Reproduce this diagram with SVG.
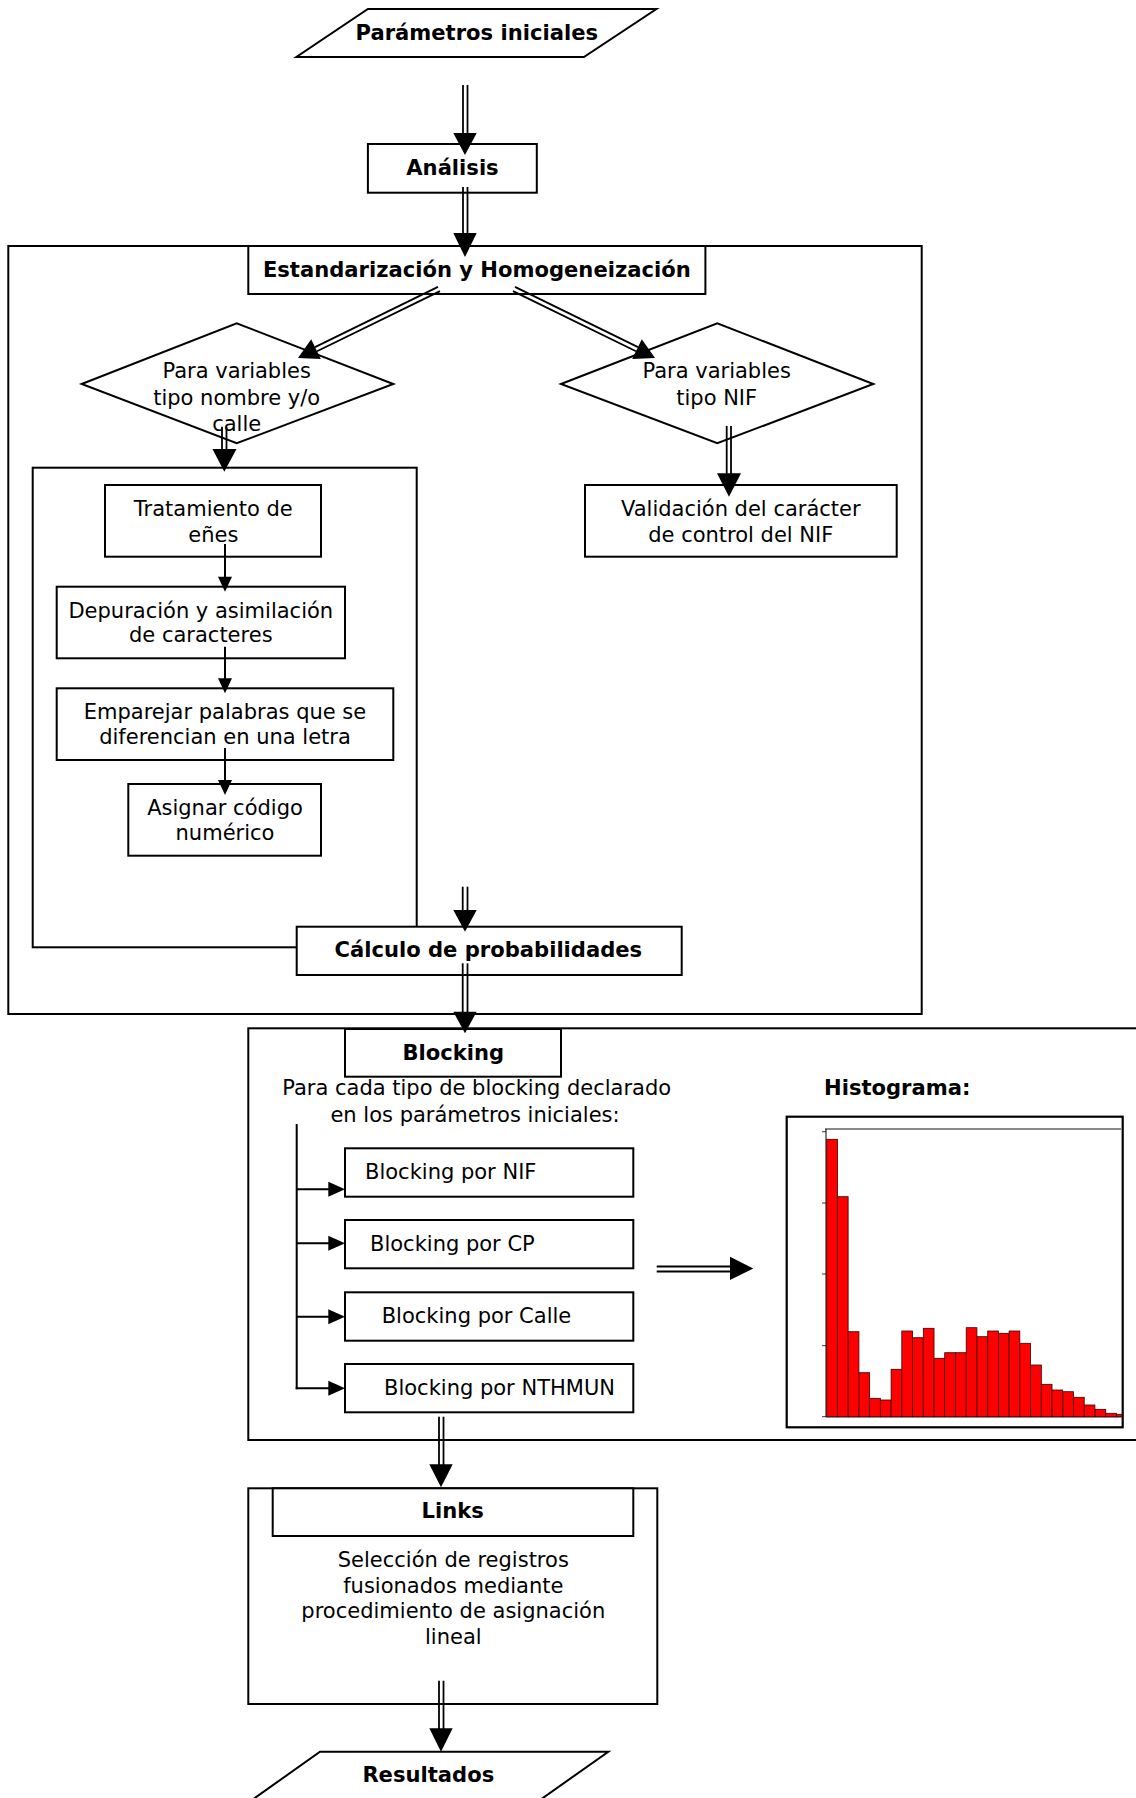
<svg xmlns="http://www.w3.org/2000/svg" width="1136" height="1798" viewBox="0 0 1136 1798">
<style>
.box{fill:#fff;stroke:#000;stroke-width:2}
.frame{fill:none;stroke:#000;stroke-width:2}
.t{font-family:"DejaVu Sans",Verdana,sans-serif;font-size:21px;fill:#000}
.b{font-family:"DejaVu Sans",Verdana,sans-serif;font-size:21.1px;font-weight:bold;fill:#000}
.c{text-anchor:middle}
.dl{stroke:#000;stroke-width:1.8;fill:none}
.sl{stroke:#000;stroke-width:2;fill:none}
.ah{fill:#000;stroke:none}
.bar{fill:#ff0000;stroke:#3a0000;stroke-width:0.8}
</style>
<rect width="1136" height="1798" fill="#fff"/>

<g id="group-estandarizacion">
<rect class="frame" x="8.3" y="246" width="913.4" height="768"/>
</g>
<g id="group-nombre">
<rect class="frame" x="32.7" y="467.7" width="384" height="479.6"/>
</g>
<g id="group-blocking">
<rect class="frame" x="248.3" y="1028.3" width="900" height="411.7"/>
</g>
<g id="group-links">
<rect class="frame" x="248.3" y="1488.3" width="409" height="215.7"/>
</g>

<g id="parametros">
<polygon class="box" points="367.9,9 656.4,9 583.9,57 296.4,57"/>
<text class="b c" x="476.8" y="40">Parámetros iniciales</text>
</g>
<g id="analisis">
<rect class="box" x="367.9" y="144" width="168.9" height="48.7"/>
<text class="b c" x="452.5" y="175">Análisis</text>
</g>
<g id="estandarizacion">
<rect class="box" x="248.3" y="246" width="457.1" height="48"/>
<text class="b c" x="476.8" y="276.7">Estandarización y Homogeneización</text>
</g>
<g id="diamante-nombre">
<polygon class="box" points="81.7,384 236.7,323.3 393.3,384 236.7,443.3"/>
<text class="t c" x="236.7" y="378.3">Para variables</text>
<text class="t c" x="236.7" y="405">tipo nombre y/o</text>
<text class="t c" x="236.7" y="430.7">calle</text>
</g>
<g id="diamante-nif">
<polygon class="box" points="561,384 717.3,323.3 873.3,384 717.3,443.3"/>
<text class="t c" x="716.7" y="378.3">Para variables</text>
<text class="t c" x="716.7" y="405">tipo NIF</text>
</g>
<g id="tratamiento">
<rect class="box" x="105" y="485" width="216" height="71.7"/>
<text class="t c" x="213.3" y="516">Tratamiento de</text>
<text class="t c" x="213.3" y="541.7">eñes</text>
</g>
<g id="validacion">
<rect class="box" x="585" y="485" width="311.7" height="71.7"/>
<text class="t c" x="740.8" y="516">Validación del carácter</text>
<text class="t c" x="740.8" y="541.7">de control del NIF</text>
</g>
<g id="depuracion">
<rect class="box" x="56.7" y="586.7" width="288.3" height="71.6"/>
<text class="t c" x="200.8" y="618.3">Depuración y asimilación</text>
<text class="t c" x="200.8" y="642.3">de caracteres</text>
</g>
<g id="emparejar">
<rect class="box" x="56.7" y="688.3" width="336.6" height="71.7"/>
<text class="t c" x="225" y="719.3">Emparejar palabras que se</text>
<text class="t c" x="225" y="744">diferencian en una letra</text>
</g>
<g id="asignar">
<rect class="box" x="128.3" y="784" width="192.7" height="71.7"/>
<text class="t c" x="225" y="815">Asignar código</text>
<text class="t c" x="225" y="840">numérico</text>
</g>
<g id="calculo">
<rect class="box" x="296.7" y="926.7" width="385" height="48.3"/>
<text class="b c" x="488.3" y="957.3">Cálculo de probabilidades</text>
</g>
<g id="blocking">
<rect class="box" x="345" y="1029" width="216" height="47.7"/>
<text class="b c" x="453.3" y="1060">Blocking</text>
<text class="t c" x="476.7" y="1095">Para cada tipo de blocking declarado</text>
<text class="t c" x="475" y="1121.7">en los parámetros iniciales:</text>
</g>
<g id="blocking-nif">
<rect class="box" x="345" y="1148.3" width="288.3" height="48.4"/>
<text class="t" x="365" y="1179">Blocking por NIF</text>
</g>
<g id="blocking-cp">
<rect class="box" x="345" y="1220" width="288.3" height="48.3"/>
<text class="t" x="370" y="1251">Blocking por CP</text>
</g>
<g id="blocking-calle">
<rect class="box" x="345" y="1292.3" width="288.3" height="48.4"/>
<text class="t" x="381.7" y="1323.3">Blocking por Calle</text>
</g>
<g id="blocking-nthmun">
<rect class="box" x="345" y="1364" width="288.3" height="48.3"/>
<text class="t" x="384" y="1395">Blocking por NTHMUN</text>
</g>
<g id="histograma">
<text class="b" x="824" y="1095">Histograma:</text>
<rect x="786.7" y="1116.7" width="336" height="310.6" fill="#fff" stroke="#000" stroke-width="2.2"/>
<line x1="825" y1="1129" x2="1121.5" y2="1129" stroke="#8a8a8a" stroke-width="2"/>
<line x1="826" y1="1129" x2="826" y2="1417" stroke="#000" stroke-width="1"/>
<line x1="826" y1="1417" x2="1121.5" y2="1417" stroke="#000" stroke-width="0.8"/>
<g stroke="#000" stroke-width="0.8">
<line x1="822" y1="1131.7" x2="826" y2="1131.7"/>
<line x1="822" y1="1203" x2="826" y2="1203"/>
<line x1="822" y1="1274" x2="826" y2="1274"/>
<line x1="822" y1="1345.7" x2="826" y2="1345.7"/>
<line x1="822" y1="1416.7" x2="826" y2="1416.7"/>
</g>
<rect class="bar" x="826.7" y="1139.3" width="10.73" height="277.4"/>
<rect class="bar" x="837.4" y="1196.7" width="10.73" height="220"/>
<rect class="bar" x="848.2" y="1331.7" width="10.73" height="85"/>
<rect class="bar" x="858.9" y="1372.7" width="10.73" height="44"/>
<rect class="bar" x="869.6" y="1398.3" width="10.73" height="18.4"/>
<rect class="bar" x="880.4" y="1400" width="10.73" height="16.7"/>
<rect class="bar" x="891.1" y="1369.3" width="10.73" height="47.4"/>
<rect class="bar" x="901.8" y="1331" width="10.73" height="85.7"/>
<rect class="bar" x="912.5" y="1337.7" width="10.73" height="79"/>
<rect class="bar" x="923.3" y="1328.3" width="10.73" height="88.4"/>
<rect class="bar" x="934" y="1358.3" width="10.73" height="58.4"/>
<rect class="bar" x="944.7" y="1352.7" width="10.73" height="64"/>
<rect class="bar" x="955.5" y="1352.7" width="10.73" height="64"/>
<rect class="bar" x="966.2" y="1327.7" width="10.73" height="89"/>
<rect class="bar" x="976.9" y="1336.7" width="10.73" height="80"/>
<rect class="bar" x="987.7" y="1331" width="10.73" height="85.7"/>
<rect class="bar" x="998.4" y="1333.3" width="10.73" height="83.4"/>
<rect class="bar" x="1009.1" y="1331" width="10.73" height="85.7"/>
<rect class="bar" x="1019.8" y="1343.3" width="10.73" height="73.4"/>
<rect class="bar" x="1030.6" y="1365" width="10.73" height="51.7"/>
<rect class="bar" x="1041.3" y="1384.3" width="10.73" height="32.4"/>
<rect class="bar" x="1052" y="1390" width="10.73" height="26.7"/>
<rect class="bar" x="1062.8" y="1391.7" width="10.73" height="25"/>
<rect class="bar" x="1073.5" y="1397.3" width="10.73" height="19.4"/>
<rect class="bar" x="1084.2" y="1405" width="10.73" height="11.7"/>
<rect class="bar" x="1095" y="1409.3" width="10.73" height="7.4"/>
<rect class="bar" x="1105.7" y="1413.3" width="10.73" height="3.4"/>
<rect class="bar" x="1116.4" y="1414.3" width="5.6" height="2.4"/>
</g>
<g id="links">
<rect class="box" x="272.7" y="1488.3" width="360.6" height="47.7"/>
<text class="b c" x="452.7" y="1518.3">Links</text>
<text class="t c" x="453.3" y="1566.7">Selección de registros</text>
<text class="t c" x="453.3" y="1592.7">fusionados mediante</text>
<text class="t c" x="453.3" y="1618.3">procedimiento de asignación</text>
<text class="t c" x="453.3" y="1644.3">lineal</text>
</g>
<g id="resultados">
<polygon class="box" points="320,1751.7 608.3,1751.7 540,1800 252,1800"/>
<text class="b c" x="428.3" y="1781.7">Resultados</text>
</g>

<g id="connectors">
<!-- Parametros -> Analisis -->
<line class="dl" x1="463" y1="85" x2="463" y2="134"/>
<line class="dl" x1="467.5" y1="85" x2="467.5" y2="134"/>
<polygon class="ah" points="453.3,133 476.7,133 465,155"/>
<!-- Analisis -> Estandarizacion -->
<line class="dl" x1="463" y1="187" x2="463" y2="234"/>
<line class="dl" x1="467.5" y1="187" x2="467.5" y2="234"/>
<polygon class="ah" points="453.3,233 476.7,233 465,257"/>
<!-- Estandarizacion -> diamante nombre -->
<line class="dl" x1="438" y1="286.9" x2="315" y2="347.1"/>
<line class="dl" x1="440" y1="291.1" x2="317" y2="351.3"/>
<polygon class="ah" points="311.2,339.3 320.8,359.1 298,358"/>
<!-- Estandarizacion -> diamante NIF -->
<line class="dl" x1="513" y1="291.1" x2="636" y2="351.3"/>
<line class="dl" x1="515" y1="286.9" x2="638" y2="347.1"/>
<polygon class="ah" points="641.8,339.3 632.2,359.1 655,358"/>
<!-- diamante nombre -> grupo -->
<line class="dl" x1="222" y1="426.7" x2="222" y2="450"/>
<line class="dl" x1="226.5" y1="426.7" x2="226.5" y2="450"/>
<polygon class="ah" points="212.5,449 236.5,449 224.3,471.7"/>
<!-- diamante NIF -> validacion -->
<line class="dl" x1="726.7" y1="426" x2="726.7" y2="474"/>
<line class="dl" x1="731" y1="426" x2="731" y2="474"/>
<polygon class="ah" points="717,473.3 741,473.3 729,496.7"/>
<!-- single arrows -->
<line class="sl" x1="225" y1="544" x2="225" y2="578"/>
<polygon class="ah" points="218,576.7 232,576.7 225,591.7"/>
<line class="sl" x1="225" y1="646.7" x2="225" y2="680"/>
<polygon class="ah" points="218,678.3 232,678.3 225,693.3"/>
<line class="sl" x1="225" y1="748" x2="225" y2="781"/>
<polygon class="ah" points="218,780 232,780 225,795"/>
<!-- -> Calculo -->
<line class="dl" x1="462.7" y1="886.7" x2="462.7" y2="911"/>
<line class="dl" x1="467.5" y1="886.7" x2="467.5" y2="911"/>
<polygon class="ah" points="453.3,910 476.7,910 465,931.7"/>
<!-- Calculo -> Blocking -->
<line class="dl" x1="462.7" y1="963.3" x2="462.7" y2="1013"/>
<line class="dl" x1="467.5" y1="963.3" x2="467.5" y2="1013"/>
<polygon class="ah" points="453.3,1011.7 476.7,1011.7 465,1033.3"/>
<!-- blocking tree -->
<line class="sl" x1="296.7" y1="1124" x2="296.7" y2="1389.3"/>
<line class="sl" x1="296.7" y1="1189.3" x2="330" y2="1189.3"/>
<polygon class="ah" points="328.3,1181.8 328.3,1196.8 345,1189.3"/>
<line class="sl" x1="296.7" y1="1243.3" x2="330" y2="1243.3"/>
<polygon class="ah" points="328.3,1235.8 328.3,1250.8 345,1243.3"/>
<line class="sl" x1="296.7" y1="1316.7" x2="330" y2="1316.7"/>
<polygon class="ah" points="328.3,1309.2 328.3,1324.2 345,1316.7"/>
<line class="sl" x1="295.7" y1="1388.3" x2="330" y2="1388.3"/>
<polygon class="ah" points="328.3,1380.8 328.3,1395.8 345,1388.3"/>
<!-- -> histograma -->
<line class="dl" x1="656.7" y1="1266.5" x2="731" y2="1266.5"/>
<line class="dl" x1="656.7" y1="1271.5" x2="731" y2="1271.5"/>
<polygon class="ah" points="730,1256.7 730,1280 753.3,1268.5"/>
<!-- Blocking -> Links -->
<line class="dl" x1="439" y1="1416.7" x2="439" y2="1465"/>
<line class="dl" x1="443.5" y1="1416.7" x2="443.5" y2="1465"/>
<polygon class="ah" points="429.3,1464.3 452.7,1464.3 441,1487.3"/>
<!-- Links -> Resultados -->
<line class="dl" x1="439" y1="1680.7" x2="439" y2="1729"/>
<line class="dl" x1="443.5" y1="1680.7" x2="443.5" y2="1729"/>
<polygon class="ah" points="429.3,1728.3 452.7,1728.3 441,1751.7"/>
</g>
</svg>
